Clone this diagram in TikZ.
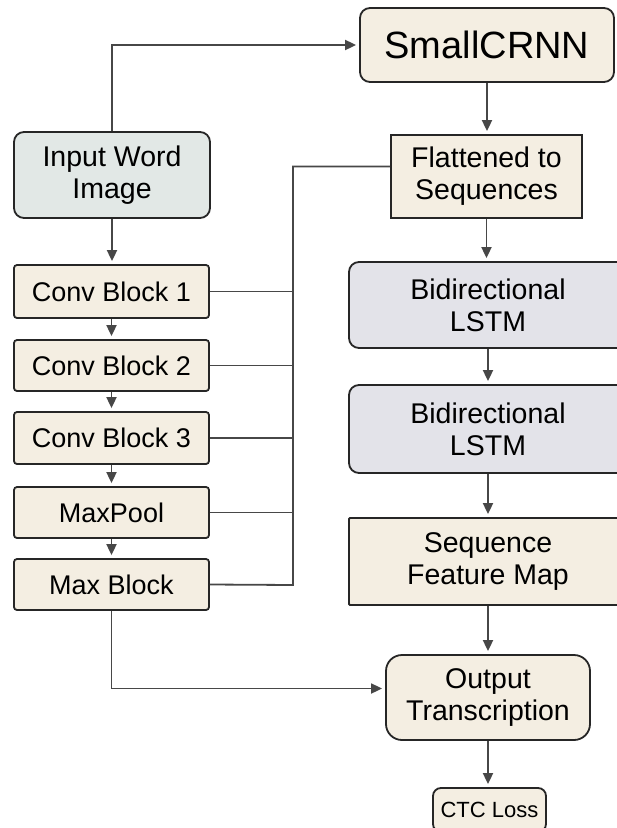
\documentclass[tikz,border=0pt]{standalone}
\usepackage{fontspec}
\setmainfont{Liberation Sans}
\usetikzlibrary{arrows.meta,calc,positioning}
\definecolor{krem}{HTML}{F4EEE2}
\definecolor{griYesil}{HTML}{E2E8E6}
\definecolor{lila}{HTML}{E3E3E9}
\definecolor{kenar}{HTML}{262626}
\definecolor{okGri}{HTML}{474747}

\begin{document}
\begin{tikzpicture}[x=1pt,y=-1pt, every node/.style={font=\fontsize{28.5}{32}\selectfont},
  kutu/.style={draw=kenar,line width=1.8pt,fill=krem,rounded corners=3pt,inner sep=0pt,
               minimum width=195pt,align=center},
  konv/.style={kutu,font=\fontsize{27}{32}\selectfont},
  ok/.style={draw=okGri,line width=1.8pt,-{Triangle[length=11pt,width=10pt]},shorten >=3pt},
  hat/.style={draw=okGri,line width=1.8pt}]
\useasboundingbox (0,0) rectangle (617,828);
\fill[white] (0,0) rectangle (617,828);
\clip (0,0) rectangle (617,828);
% sol sutun
\node[kutu,fill=griYesil,minimum width=196pt,minimum height=86pt,rounded corners=10pt] (inp) at (112,175) {Input Word\\Image};
\node[konv,minimum height=53pt] (c1) at (111.5,291.5) {Conv Block 1};
\node[konv,minimum height=51pt] (c2) at (111.5,365.5) {Conv Block 2};
\node[konv,minimum height=52pt] (c3) at (111.5,438) {Conv Block 3};
\node[konv,minimum height=51pt] (mp) at (111.5,512.5) {MaxPool};
\node[konv,minimum height=51pt] (mb) at (111.5,584.5) {Max Block};
% sag sutun
\node[kutu,minimum width=254pt,minimum height=74pt,rounded corners=10pt,font=\fontsize{38}{44}\selectfont] (crnn) at (487,45) {SmallCRNN};
\node[kutu,minimum width=191pt,minimum height=83pt,rounded corners=0pt] (flat) at (486.5,176.5) {Flattened to\\Sequences};
\node[kutu,fill=lila,minimum width=278pt,minimum height=86pt,rounded corners=10pt] (lstm1) at (488,305) {Bidirectional\\LSTM};
\node[kutu,fill=lila,minimum width=278pt,minimum height=88pt,rounded corners=10pt] (lstm2) at (488,429) {Bidirectional\\LSTM};
\node[kutu,minimum width=278pt,minimum height=87pt,rounded corners=1pt] (sfm) at (488,561.5) {Sequence\\Feature Map};
\node[kutu,minimum width=204pt,minimum height=85pt,rounded corners=16pt] (out) at (488,697.5) {Output\\Transcription};
\node[kutu,minimum width=113pt,minimum height=44pt,rounded corners=8pt,font=\fontsize{22}{24}\selectfont] (ctc) at (489.5,810) {CTC Loss};
% oklar
\foreach \a/\b in {inp/c1, c1/c2, c2/c3, c3/mp, mp/mb, crnn/flat, flat/lstm1, lstm1/lstm2, lstm2/sfm, sfm/out, out/ctc}
  \draw[ok] (\a.south) -- (\a.south |- \b.north);
\draw[ok] (inp.north) |- (crnn.west);
\draw[ok] (mb.south) |- ([yshift=9pt]out.west);
% ortak hat
\coordinate (bus) at (293,585);
\draw[hat] ([yshift=10pt]flat.west) -| (bus) -- (mb.east);
\foreach \k in {c1,c2,c3,mp} \draw[hat] (\k.east) -- (\k.east -| bus);
\end{tikzpicture}
\end{document}
